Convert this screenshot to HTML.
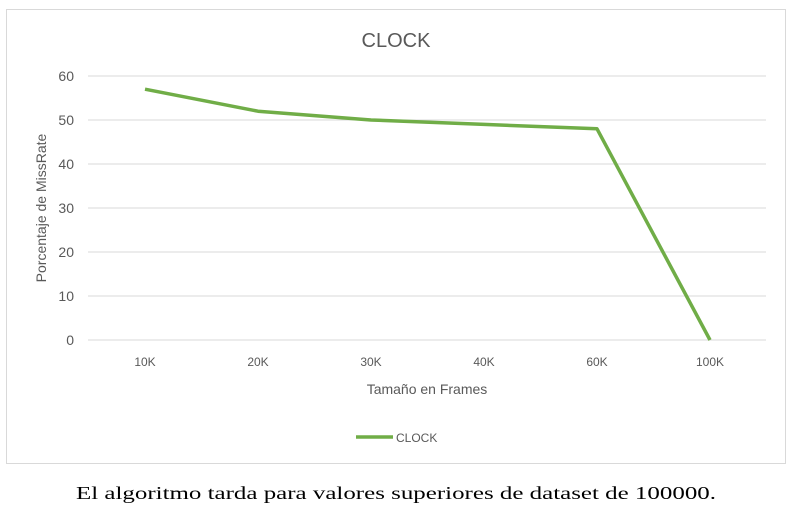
<!DOCTYPE html>
<html><head><meta charset="utf-8"><style>
body{margin:0;background:#fff;width:798px;height:514px;overflow:hidden;font-family:"Liberation Sans",sans-serif}
</style></head><body>
<svg width="798" height="514">
<rect x="6.5" y="9.5" width="779" height="454" fill="#fff" stroke="#d9d9d9"/>
<text x="396" y="47" text-anchor="middle" font-size="20" fill="#595959">CLOCK</text>
<g id="grid"></g><g id="yt"></g><g id="xt"></g>
<polyline id="line" fill="none" stroke="#70ad47" stroke-width="3.5" stroke-linejoin="round"/>
<text transform="translate(46,208) rotate(-90)" text-anchor="middle" font-size="14" fill="#595959">Porcentaje de MissRate</text>
<text x="427" y="394" text-anchor="middle" font-size="14" fill="#595959">Tamaño en Frames</text>
<line x1="356" y1="437" x2="393" y2="437" stroke="#70ad47" stroke-width="3.5"/>
<text x="396" y="442" font-size="12" fill="#595959">CLOCK</text>
<text x="76" y="499" textLength="640" lengthAdjust="spacingAndGlyphs" font-size="18" fill="#000" font-family="Liberation Serif,serif">El algoritmo tarda para valores superiores de dataset de 100000.</text>
</svg>
<script>
const categories=["10K","20K","30K","40K","60K","100K"];
const values=[57,52,50,49,48,0];
const yTicks=[0,10,20,30,40,50,60];
const ns="http://www.w3.org/2000/svg";
const y=v=>340-v*4.4, x=i=>145+i*113;
const g=document.getElementById('grid'),yt=document.getElementById('yt'),xt=document.getElementById('xt');
yTicks.forEach(t=>{
 const l=document.createElementNS(ns,'line');
 
 
 l.setAttribute('x1',88);l.setAttribute('x2',766);l.setAttribute('y1',y(t));l.setAttribute('y2',y(t));
 l.setAttribute('stroke','#d9d9d9');g.appendChild(l);
 const s=document.createElementNS(ns,'text');
 
 
 s.setAttribute('x',74);s.setAttribute('y',y(t)+5);s.setAttribute('text-anchor','end');
 s.setAttribute('font-size','14');s.setAttribute('fill','#595959');s.textContent=t;yt.appendChild(s);
});
categories.forEach((c,i)=>{
 const s=document.createElementNS(ns,'text');
 
 
 s.setAttribute('x',x(i));s.setAttribute('y',366);s.setAttribute('text-anchor','middle');
 s.setAttribute('font-size','12');s.setAttribute('fill','#595959');s.textContent=c;xt.appendChild(s);
});
document.getElementById('line').setAttribute('points',values.map((v,i)=>x(i)+','+y(v)).join(' '));
</script>
</body></html>
